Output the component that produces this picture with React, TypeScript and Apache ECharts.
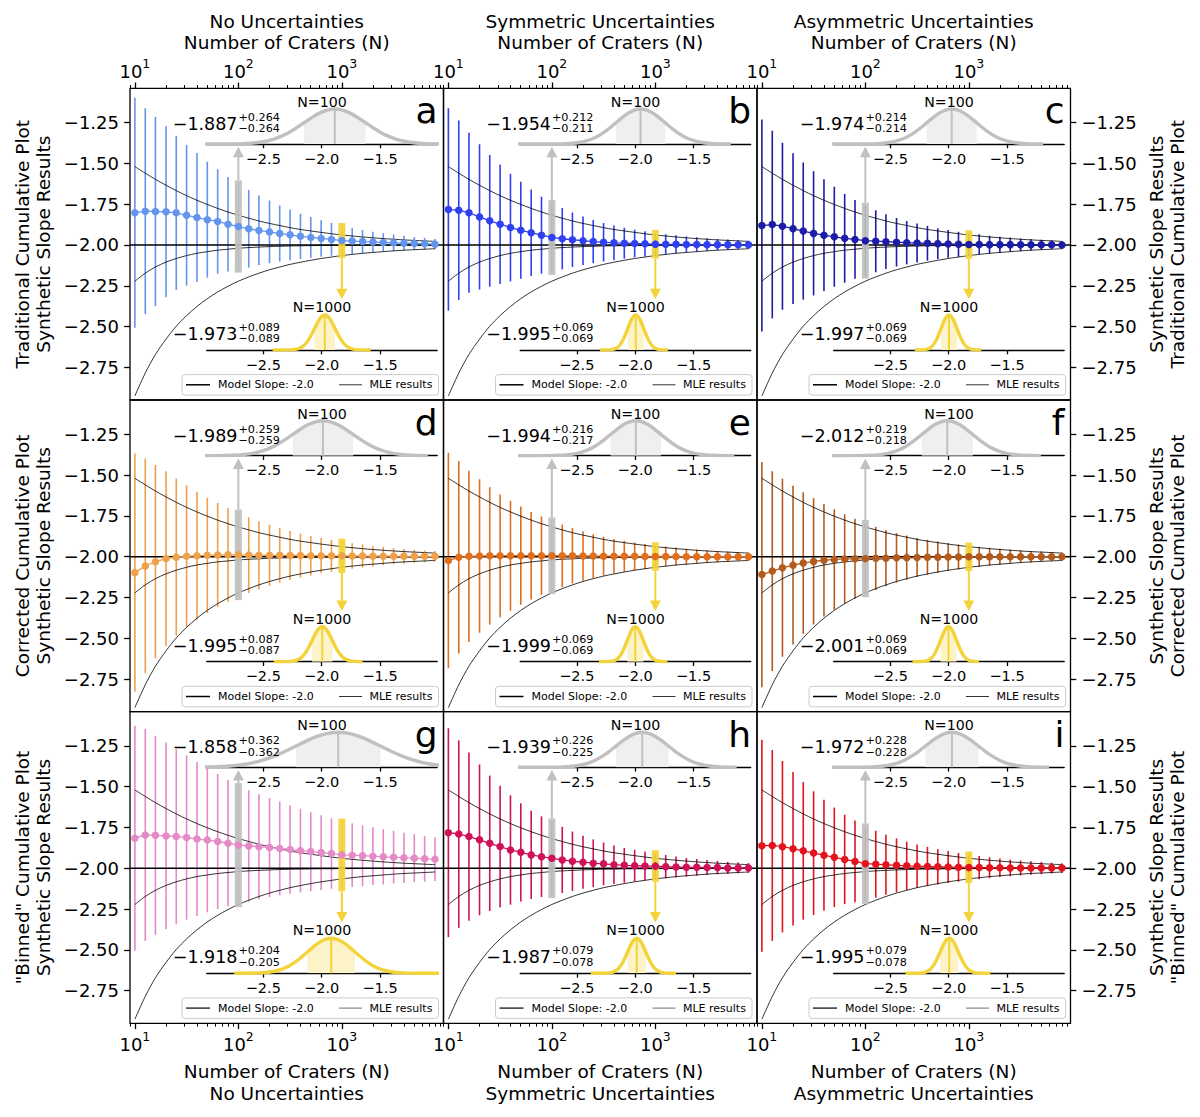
import React, { useEffect, useRef } from "react";
import * as echarts from "echarts";

// ---------------- data ----------------
const N_CRATERS = [10, 12.6, 15.8, 20, 25.1, 31.6, 39.8, 50.1, 63.1, 79.4, 100, 126, 158, 200, 251, 316, 398, 501, 631, 794, 1000, 1259, 1585, 1995, 2512, 3162, 3981, 5012, 6310, 7943];

const MEAN_A = [-1.803, -1.793, -1.795, -1.797, -1.803, -1.818, -1.832, -1.845, -1.856, -1.873, -1.887, -1.901, -1.911, -1.920, -1.930, -1.938, -1.947, -1.954, -1.960, -1.966, -1.973, -1.976, -1.979, -1.982, -1.985, -1.987, -1.989, -1.991, -1.993, -1.995];
const MEAN_B = [-1.783, -1.787, -1.803, -1.828, -1.852, -1.873, -1.893, -1.910, -1.925, -1.940, -1.954, -1.962, -1.968, -1.974, -1.979, -1.983, -1.987, -1.989, -1.991, -1.993, -1.995, -1.996, -1.996, -1.997, -1.997, -1.998, -1.998, -1.998, -1.999, -1.999];
const MEAN_C = [-1.881, -1.875, -1.885, -1.900, -1.915, -1.929, -1.940, -1.950, -1.959, -1.966, -1.974, -1.977, -1.980, -1.983, -1.986, -1.988, -1.990, -1.992, -1.994, -1.996, -1.997, -1.997, -1.998, -1.998, -1.998, -1.999, -1.999, -1.999, -1.999, -2.000];
const MEAN_D = [-2.098, -2.057, -2.031, -2.012, -2.003, -1.998, -1.994, -1.992, -1.990, -1.989, -1.989, -1.990, -1.991, -1.992, -1.992, -1.993, -1.993, -1.994, -1.994, -1.995, -1.995, -1.996, -1.996, -1.997, -1.997, -1.997, -1.998, -1.998, -1.998, -1.998];
const MEAN_E = [-2.024, -2.004, -1.998, -1.996, -1.995, -1.995, -1.994, -1.994, -1.994, -1.994, -1.994, -1.995, -1.995, -1.996, -1.996, -1.997, -1.997, -1.998, -1.998, -1.999, -1.999, -1.999, -1.999, -2.000, -2.000, -2.000, -2.000, -2.000, -2.000, -2.000];
const MEAN_F = [-2.110, -2.088, -2.068, -2.052, -2.039, -2.029, -2.022, -2.017, -2.014, -2.013, -2.012, -2.010, -2.009, -2.007, -2.006, -2.005, -2.004, -2.003, -2.002, -2.002, -2.001, -2.001, -2.001, -2.000, -2.000, -2.000, -2.000, -2.000, -2.000, -2.000];
const MEAN_G = [-1.816, -1.796, -1.798, -1.802, -1.806, -1.812, -1.821, -1.827, -1.836, -1.846, -1.858, -1.863, -1.868, -1.873, -1.879, -1.885, -1.892, -1.898, -1.904, -1.910, -1.918, -1.920, -1.923, -1.926, -1.930, -1.932, -1.936, -1.938, -1.942, -1.944];
const MEAN_H = [-1.782, -1.790, -1.806, -1.826, -1.847, -1.867, -1.888, -1.902, -1.918, -1.929, -1.939, -1.949, -1.957, -1.963, -1.969, -1.973, -1.978, -1.982, -1.984, -1.986, -1.987, -1.990, -1.992, -1.994, -1.994, -1.996, -1.996, -1.998, -1.998, -1.998];
const MEAN_I = [-1.862, -1.860, -1.868, -1.880, -1.893, -1.907, -1.920, -1.933, -1.946, -1.958, -1.972, -1.975, -1.979, -1.982, -1.985, -1.987, -1.989, -1.991, -1.992, -1.994, -1.995, -1.996, -1.997, -1.997, -1.998, -1.998, -1.998, -1.999, -1.999, -1.999];

const SIG_A = [0.705, 0.630, 0.580, 0.524, 0.473, 0.431, 0.395, 0.355, 0.320, 0.290, 0.264, 0.238, 0.214, 0.192, 0.172, 0.155, 0.139, 0.125, 0.112, 0.100, 0.089, 0.080, 0.071, 0.063, 0.057, 0.051, 0.045, 0.040, 0.036, 0.032];
const SIG_B = [0.620, 0.550, 0.490, 0.445, 0.404, 0.366, 0.330, 0.297, 0.265, 0.236, 0.212, 0.188, 0.167, 0.148, 0.132, 0.118, 0.106, 0.095, 0.085, 0.077, 0.069, 0.062, 0.055, 0.049, 0.044, 0.039, 0.035, 0.031, 0.028, 0.025];
const SIG_C = [0.650, 0.575, 0.512, 0.462, 0.420, 0.380, 0.342, 0.306, 0.272, 0.241, 0.214, 0.190, 0.168, 0.149, 0.133, 0.119, 0.106, 0.095, 0.085, 0.077, 0.069, 0.062, 0.055, 0.049, 0.044, 0.039, 0.035, 0.031, 0.028, 0.025];
const SIG_D = [0.730, 0.658, 0.593, 0.535, 0.482, 0.435, 0.392, 0.353, 0.319, 0.287, 0.259, 0.232, 0.208, 0.187, 0.168, 0.150, 0.135, 0.121, 0.108, 0.097, 0.087, 0.078, 0.070, 0.063, 0.056, 0.050, 0.045, 0.040, 0.036, 0.033];
const SIG_E = [0.660, 0.590, 0.525, 0.470, 0.420, 0.376, 0.337, 0.301, 0.268, 0.240, 0.216, 0.192, 0.170, 0.151, 0.134, 0.119, 0.106, 0.095, 0.085, 0.077, 0.069, 0.062, 0.055, 0.049, 0.044, 0.039, 0.035, 0.031, 0.028, 0.025];
const SIG_F = [0.690, 0.612, 0.545, 0.486, 0.434, 0.387, 0.345, 0.308, 0.274, 0.245, 0.219, 0.194, 0.172, 0.152, 0.135, 0.120, 0.107, 0.096, 0.086, 0.077, 0.069, 0.062, 0.055, 0.049, 0.044, 0.039, 0.035, 0.031, 0.028, 0.025];
const SIG_G = [0.690, 0.650, 0.610, 0.572, 0.537, 0.503, 0.472, 0.443, 0.414, 0.387, 0.362, 0.341, 0.322, 0.304, 0.287, 0.271, 0.256, 0.242, 0.229, 0.216, 0.204, 0.195, 0.186, 0.177, 0.169, 0.161, 0.154, 0.147, 0.140, 0.134];
const SIG_H = [0.640, 0.575, 0.515, 0.462, 0.415, 0.373, 0.335, 0.301, 0.271, 0.247, 0.226, 0.203, 0.182, 0.163, 0.146, 0.131, 0.118, 0.107, 0.097, 0.088, 0.079, 0.071, 0.064, 0.057, 0.051, 0.046, 0.041, 0.037, 0.033, 0.030];
const SIG_I = [0.650, 0.585, 0.525, 0.470, 0.422, 0.379, 0.340, 0.305, 0.274, 0.250, 0.228, 0.205, 0.184, 0.165, 0.148, 0.133, 0.120, 0.108, 0.098, 0.088, 0.079, 0.071, 0.064, 0.057, 0.051, 0.046, 0.041, 0.037, 0.033, 0.030];

// thin black reference curves (MLE results), same in every panel
const UPPER_CURVE = [-1.520, -1.560, -1.598, -1.634, -1.667, -1.698, -1.726, -1.752, -1.776, -1.798, -1.818, -1.836, -1.853, -1.868, -1.881, -1.894, -1.905, -1.914, -1.923, -1.931, -1.939, -1.945, -1.951, -1.956, -1.961, -1.965, -1.969, -1.972, -1.975, -1.978];
const BIAS_CURVE = [-2.222, -2.173, -2.135, -2.105, -2.083, -2.065, -2.051, -2.041, -2.032, -2.026, -2.020, -2.016, -2.013, -2.010, -2.008, -2.006, -2.005, -2.004, -2.003, -2.003, -2.002, -2.002, -2.001, -2.001, -2.001, -2.001, -2.000, -2.000, -2.000, -2.000];
const LOWER_CURVE = [-2.925, -2.785, -2.671, -2.577, -2.498, -2.433, -2.377, -2.329, -2.288, -2.253, -2.222, -2.196, -2.173, -2.152, -2.135, -2.119, -2.106, -2.094, -2.083, -2.074, -2.065, -2.058, -2.051, -2.046, -2.041, -2.036, -2.032, -2.029, -2.026, -2.023];
const MODEL_SLOPE = -2.0;

// inset statistics (N=100 and N=1000)
const M100 = [-1.887, -1.954, -1.974, -1.989, -1.994, -2.012, -1.858, -1.939, -1.972];
const P100 = [0.264, 0.212, 0.214, 0.259, 0.216, 0.219, 0.362, 0.226, 0.228];
const Q100 = [0.264, 0.211, 0.214, 0.259, 0.217, 0.218, 0.362, 0.225, 0.228];
const M1000 = [-1.973, -1.995, -1.997, -1.995, -1.999, -2.001, -1.918, -1.987, -1.995];
const P1000 = [0.089, 0.069, 0.069, 0.087, 0.069, 0.069, 0.204, 0.079, 0.079];
const Q1000 = [0.089, 0.069, 0.069, 0.087, 0.069, 0.069, 0.205, 0.078, 0.078];
const C100_LO = [-3.2, -3.2, -3.2, -3.2, -3.2, -3.2, -3.2, -3.2, -3.2];
const C100_HI = [-0.9, -1.18, -1.19, -1.09, -1.15, -1.21, -0.9, -1.13, -1.14];
const C1000_LO = [-2.42, -2.30, -2.29, -2.41, -2.31, -2.31, -2.75, -2.38, -2.37];
const C1000_HI = [-1.58, -1.72, -1.72, -1.65, -1.72, -1.74, -0.9, -1.65, -1.64];
const PROFILE_Z = [-5, -4.5, -4, -3.5, -3, -2.75, -2.5, -2.25, -2, -1.75, -1.5, -1.25, -1, -0.75, -0.5, -0.25, 0, 0.25, 0.5, 0.75, 1, 1.25, 1.5, 1.75, 2, 2.25, 2.5, 2.75, 3, 3.5, 4, 4.5, 5];
const PROFILE_H = [0, 0.00004, 0.0003, 0.0022, 0.0111, 0.0228, 0.0439, 0.0796, 0.1353, 0.2163, 0.3247, 0.4578, 0.6065, 0.7548, 0.8825, 0.9692, 1, 0.9692, 0.8825, 0.7548, 0.6065, 0.4578, 0.3247, 0.2163, 0.1353, 0.0796, 0.0439, 0.0228, 0.0111, 0.0022, 0.0003, 0.00004, 0];

const PANEL_LETTERS = ["a", "b", "c", "d", "e", "f", "g", "h", "i"];
const PANEL_COLORS = ["#6495ed", "#3040f0", "#1c1ca6", "#eea14a", "#df6e1f", "#b35b1d", "#e48ac6", "#cf1258", "#e3141e"];
const COL_TITLES = ["No Uncertainties", "Symmetric Uncertainties", "Asymmetric Uncertainties"];
const ROW_TITLES = ["Traditional Cumulative Plot", "Corrected Cumulative Plot", "\"Binned\" Cumulative Plot"];
const AXIS_NAME_X = "Number of Craters (N)";
const AXIS_NAME_Y = "Synthetic Slope Results";
const X_MAJOR = [10, 100, 1000];
const X_MINOR = [9, 20, 30, 40, 50, 60, 70, 80, 90, 200, 300, 400, 500, 600, 700, 800, 900, 2000, 3000, 4000, 5000, 6000, 7000, 8000, 9000];
const Y_TICKS = [-1.25, -1.5, -1.75, -2.0, -2.25, -2.5, -2.75];
const INSET_TICKS = [-2.5, -2.0, -1.5];
const LEGEND_LABELS = ["Model Slope: -2.0", "MLE results"];

const MEANS = [MEAN_A, MEAN_B, MEAN_C, MEAN_D, MEAN_E, MEAN_F, MEAN_G, MEAN_H, MEAN_I];
const SIGMAS = [SIG_A, SIG_B, SIG_C, SIG_D, SIG_E, SIG_F, SIG_G, SIG_H, SIG_I];

// ---------------- layout ----------------
const FONT = "DejaVu Sans";
const FS_TITLE = 18.5;
const FS_TICK = 18;
const COL_LEFT = [130, 443.5, 757];
const ROW_TOP = [88.3, 400, 711.6];
const PW = 313.5;
const PH = 311.7;
const X_MIN = 8.97;
const X_MAX = 9600;
const Y_MIN = -2.95;
const Y_MAX = -1.04;
const GRAY = "#c0c0c0";
const GRAY_SHADE = "#efefef";
const YELLOW = "#f2d43a";
const YELLOW_SHADE = "#fcf3c8";

const minus = (v: number, d: number) => (v < 0 ? "\u2212" : "") + Math.abs(v).toFixed(d);

function buildOption() {
  const grid: any[] = [];
  const xAxis: any[] = [];
  const yAxis: any[] = [];
  const series: any[] = [];
  const elements: any[] = [];

  const tickStyle = { color: "#000", width: 1.3 };

  for (let p = 0; p < 9; p++) {
    const r = Math.floor(p / 3);
    const c = p % 3;
    grid.push({ left: COL_LEFT[c], top: ROW_TOP[r], width: PW, height: PH, show: true, borderColor: "#000", borderWidth: 1.3, backgroundColor: "transparent", containLabel: false });
  }
  for (let p = 0; p < 9; p++) {
    const r = Math.floor(p / 3);
    const c = p % 3;
    for (let t = 0; t < 2; t++) {
      grid.push({ left: COL_LEFT[c] + 76.7, top: ROW_TOP[r] + (t === 0 ? 16.5 : 222.5), width: 230.5, height: 39.2, show: false, containLabel: false });
    }
  }

  for (let p = 0; p < 9; p++) {
    const r = Math.floor(p / 3);
    const c = p % 3;
    const showX = r !== 1;
    const pos = r === 0 ? "top" : "bottom";
    xAxis.push({
      type: "log", logBase: 10, gridIndex: p, min: X_MIN, max: X_MAX, position: pos,
      axisLine: { show: false }, splitLine: { show: false },
      axisTick: { show: showX, length: 5.8, lineStyle: tickStyle, customValues: X_MAJOR },
      axisLabel: {
        show: showX, customValues: X_MAJOR, margin: r === 0 ? 8 : 7,
        formatter: (v: number) => `{b|10}{s|${Math.round(Math.log10(v))}}`,
        rich: {
          b: { fontSize: FS_TICK, fontFamily: FONT, color: "#000", lineHeight: 23, verticalAlign: "bottom" },
          s: { fontSize: 12.5, fontFamily: FONT, color: "#000", lineHeight: 14, verticalAlign: "top" },
        },
      },
    });
    xAxis.push({
      type: "log", logBase: 10, gridIndex: p, min: X_MIN, max: X_MAX, position: pos,
      axisLine: { show: false }, splitLine: { show: false },
      axisTick: { show: showX, length: 3.3, lineStyle: { color: "#000", width: 1 }, customValues: X_MINOR },
      axisLabel: { show: false },
    });
    const showY = c !== 1;
    yAxis.push({
      type: "value", gridIndex: p, min: Y_MIN, max: Y_MAX, position: c === 2 ? "right" : "left",
      axisLine: { show: false }, splitLine: { show: false },
      axisTick: { show: showY, length: 5.8, lineStyle: tickStyle, customValues: Y_TICKS },
      axisLabel: { show: showY, customValues: Y_TICKS, margin: 11, fontSize: FS_TICK, fontFamily: FONT, color: "#000", formatter: (v: number) => minus(v, 2) },
    });
  }
  for (let p = 0; p < 9; p++) {
    for (let t = 0; t < 2; t++) {
      const gi = 9 + 2 * p + t;
      xAxis.push({
        type: "value", gridIndex: gi, min: -2.985, max: -1.01, position: "bottom",
        axisLine: { show: true, onZero: false, lineStyle: tickStyle }, splitLine: { show: false },
        axisTick: { length: 4.3, lineStyle: tickStyle, customValues: INSET_TICKS },
        axisLabel: { customValues: INSET_TICKS, margin: 7, fontSize: 14.5, fontFamily: FONT, color: "#000", formatter: (v: number) => minus(v, 1) },
      });
      yAxis.push({ type: "value", gridIndex: gi, min: 0, max: 1.12, show: false });
    }
  }

  for (let p = 0; p < 9; p++) {
    const r = Math.floor(p / 3);
    const c = p % 3;
    const L = COL_LEFT[c];
    const T = ROW_TOP[r];
    const color = PANEL_COLORS[p];
    const mean = MEANS[p];
    const sig = SIGMAS[p];
    const xi = 2 * p;
    const yi = p;

    series.push({
      type: "custom", xAxisIndex: xi, yAxisIndex: yi, z: 2, silent: true, clip: true,
      encode: { x: 0, y: [1, 2] },
      data: N_CRATERS.map((n, k) => [n, mean[k] - sig[k], mean[k] + sig[k]]),
      renderItem: (params: any, api: any) => {
        const x = api.value(0);
        const a = api.coord([x, api.value(1)]);
        const b = api.coord([x, api.value(2)]);
        return { type: "line", shape: { x1: a[0], y1: a[1], x2: b[0], y2: b[1] }, style: { stroke: color, lineWidth: 1.6 } };
      },
    });
    series.push({
      type: "line", xAxisIndex: xi, yAxisIndex: yi, z: 3, silent: true, symbol: "none",
      data: [[X_MIN, MODEL_SLOPE], [X_MAX, MODEL_SLOPE]], lineStyle: { color: "#000", width: 1.5 },
    });
    [UPPER_CURVE, BIAS_CURVE, LOWER_CURVE].forEach((cv) => {
      series.push({
        type: "line", xAxisIndex: xi, yAxisIndex: yi, z: 3, silent: true, symbol: "none", smooth: 0.3,
        data: N_CRATERS.map((n, k) => [n, cv[k]]), lineStyle: { color: "#000", width: 0.8 },
      });
    });
    series.push({
      type: "custom", xAxisIndex: xi, yAxisIndex: yi, z: 4, silent: true, clip: false,
      encode: { x: 0, y: [1, 2] },
      data: [[100, M100[p] - Q100[p], M100[p] + P100[p], 0], [1000, M1000[p] - Q1000[p], M1000[p] + P1000[p], 1]],
      renderItem: (params: any, api: any) => {
        const x = api.value(0);
        const kind = api.value(3);
        const lo = api.coord([x, api.value(1)]);
        const hi = api.coord([x, api.value(2)]);
        const cs = params.coordSys;
        const col = kind === 0 ? GRAY : YELLOW;
        const px = lo[0];
        const children: any[] = [
          { type: "rect", shape: { x: px - 3.5, y: hi[1] - 3, width: 7, height: lo[1] - hi[1] + 6 }, style: { fill: col, opacity: 0.92 } },
        ];
        if (kind === 0) {
          const tip = cs.y + 58.4;
          children.push({ type: "line", shape: { x1: px, y1: hi[1] - 3, x2: px, y2: tip + 9 }, style: { stroke: col, lineWidth: 2 } });
          children.push({ type: "polygon", shape: { points: [[px - 5.5, tip + 10.5], [px + 5.5, tip + 10.5], [px, tip]] }, style: { fill: col } });
        } else {
          const tip = cs.y + 211;
          children.push({ type: "line", shape: { x1: px, y1: lo[1] + 3, x2: px, y2: tip - 9 }, style: { stroke: col, lineWidth: 2 } });
          children.push({ type: "polygon", shape: { points: [[px - 5.5, tip - 10.5], [px + 5.5, tip - 10.5], [px, tip]] }, style: { fill: col } });
        }
        return { type: "group", children };
      },
    });
    series.push({
      type: "line", xAxisIndex: xi, yAxisIndex: yi, z: 5, silent: true,
      data: N_CRATERS.map((n, k) => [n, mean[k]]),
      symbol: "circle", symbolSize: 7.5, itemStyle: { color }, lineStyle: { color, width: 1.3 },
    });

    // insets
    for (let t = 0; t < 2; t++) {
      const gi = 9 + 2 * p + t;
      const m = t === 0 ? M100[p] : M1000[p];
      const sp = t === 0 ? P100[p] : P1000[p];
      const sm = t === 0 ? Q100[p] : Q1000[p];
      const sd = (sp + sm) / 2;
      const lo = t === 0 ? C100_LO[p] : C1000_LO[p];
      const hi = t === 0 ? C100_HI[p] : C1000_HI[p];
      const col = t === 0 ? GRAY : YELLOW;
      const shade = t === 0 ? GRAY_SHADE : YELLOW_SHADE;
      const pts = PROFILE_Z.map((z, i) => [m + z * sd, PROFILE_H[i]]);
      const curve = [[lo, 0], ...pts.filter((q) => q[0] > lo && q[0] < hi), [hi, 0]];
      const shadePts = pts.filter((q, i) => Math.abs(PROFILE_Z[i]) <= 1);
      series.push({
        type: "line", xAxisIndex: 18 + 2 * p + t, yAxisIndex: gi, z: 6, silent: true, symbol: "none", smooth: 0.3,
        data: shadePts, lineStyle: { width: 0 }, areaStyle: { color: shade, opacity: 1 },
      });
      series.push({
        type: "line", xAxisIndex: 18 + 2 * p + t, yAxisIndex: gi, z: 7, silent: true, symbol: "none",
        data: [[m, 0], [m, 1]], lineStyle: { color: col, width: 2 },
      });
      series.push({
        type: "line", xAxisIndex: 18 + 2 * p + t, yAxisIndex: gi, z: 8, silent: true, symbol: "none", smooth: 0.3,
        data: curve, lineStyle: { color: col, width: 3.4 },
      });

      const base = t === 0 ? 41.7 : 251.7;
      elements.push({ type: "text", x: L + 107.5, y: T + base - 6.1, z: 50, style: { text: minus(m, 3), fontSize: 17.5, fontFamily: FONT, fill: "#000", align: "right", verticalAlign: "middle" } });
      elements.push({
        type: "text", x: L + 108.5, y: T + base - 6.9, z: 50,
        style: { text: "+" + sp.toFixed(3) + "\n\u2212" + sm.toFixed(3), fontSize: 11.2, lineHeight: 11.2, fontFamily: FONT, fill: "#000", align: "left", verticalAlign: "middle" },
      });
      elements.push({ type: "text", x: L + 192, y: T + (t === 0 ? 13.6 : 218.6), z: 50, style: { text: t === 0 ? "N=100" : "N=1000", fontSize: 14.2, fontFamily: FONT, fill: "#000", align: "center", verticalAlign: "middle" } });
    }

    // panel letter
    elements.push({ type: "text", x: L + PW - 6, y: T + 22.5, z: 50, style: { text: PANEL_LETTERS[p], fontSize: 36, fontFamily: FONT, fill: "#000", align: "right", verticalAlign: "middle" } });

    // legend
    const ly = T + 296.5;
    elements.push({ type: "rect", z: 40, shape: { x: L + 52, y: T + 286.3, width: 256.5, height: 20.5, r: 3 }, style: { fill: "rgba(255,255,255,0.8)", stroke: "#cccccc", lineWidth: 1 } });
    elements.push({ type: "line", z: 41, shape: { x1: L + 56, y1: ly, x2: L + 80, y2: ly }, style: { stroke: r === 2 ? "#333" : "#000", lineWidth: 1.5 } });
    elements.push({ type: "text", z: 41, x: L + 88, y: ly, style: { text: LEGEND_LABELS[0], fontSize: 11, fontFamily: FONT, fill: "#000", align: "left", verticalAlign: "middle" } });
    elements.push({ type: "line", z: 41, shape: { x1: L + 209, y1: ly, x2: L + 232, y2: ly }, style: { stroke: r === 2 ? "#888" : "#000", lineWidth: r === 2 ? 1.2 : 0.8 } });
    elements.push({ type: "text", z: 41, x: L + 239.5, y: ly, style: { text: LEGEND_LABELS[1], fontSize: 11, fontFamily: FONT, fill: "#000", align: "left", verticalAlign: "middle" } });
  }

  // column titles (top and bottom)
  for (let c = 0; c < 3; c++) {
    const cx = COL_LEFT[c] + PW / 2;
    elements.push({ type: "text", x: cx, y: 21, style: { text: COL_TITLES[c], fontSize: FS_TITLE, fontFamily: FONT, fill: "#000", align: "center", verticalAlign: "middle" } });
    elements.push({ type: "text", x: cx, y: 42, style: { text: AXIS_NAME_X, fontSize: FS_TITLE, fontFamily: FONT, fill: "#000", align: "center", verticalAlign: "middle" } });
    elements.push({ type: "text", x: cx, y: 1071.5, style: { text: AXIS_NAME_X, fontSize: FS_TITLE, fontFamily: FONT, fill: "#000", align: "center", verticalAlign: "middle" } });
    elements.push({ type: "text", x: cx, y: 1093.5, style: { text: COL_TITLES[c], fontSize: FS_TITLE, fontFamily: FONT, fill: "#000", align: "center", verticalAlign: "middle" } });
  }
  // row titles (left and right)
  for (let r = 0; r < 3; r++) {
    const cy = ROW_TOP[r] + PH / 2;
    const rot = Math.PI / 2;
    elements.push({ type: "text", x: 22, y: cy, rotation: rot, style: { text: ROW_TITLES[r], fontSize: FS_TITLE, fontFamily: FONT, fill: "#000", align: "center", verticalAlign: "middle" } });
    elements.push({ type: "text", x: 43, y: cy, rotation: rot, style: { text: AXIS_NAME_Y, fontSize: FS_TITLE, fontFamily: FONT, fill: "#000", align: "center", verticalAlign: "middle" } });
    elements.push({ type: "text", x: 1156, y: cy, rotation: rot, style: { text: AXIS_NAME_Y, fontSize: FS_TITLE, fontFamily: FONT, fill: "#000", align: "center", verticalAlign: "middle" } });
    elements.push({ type: "text", x: 1177, y: cy, rotation: rot, style: { text: ROW_TITLES[r], fontSize: FS_TITLE, fontFamily: FONT, fill: "#000", align: "center", verticalAlign: "middle" } });
  }

  return {
    animation: false,
    backgroundColor: "#ffffff",
    textStyle: { fontFamily: FONT },
    grid, xAxis, yAxis, series,
    graphic: { elements },
  };
}

export default function App() {
  const ref = useRef<HTMLDivElement>(null);
  useEffect(() => {
    const chart = echarts.init(ref.current as HTMLDivElement, null, { renderer: "svg" });
    chart.setOption(buildOption() as any);
    return () => chart.dispose();
  }, []);
  return <div ref={ref} style={{ position: "fixed", left: 0, top: 0, width: 1200, height: 1117, background: "#fff" }} />;
}
